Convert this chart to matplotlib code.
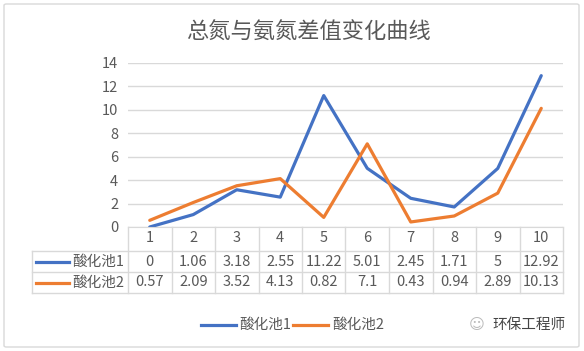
import matplotlib
matplotlib.use('Agg')
import matplotlib.pyplot as plt
from matplotlib.lines import Line2D
from matplotlib.patches import FancyBboxPatch

plt.rcParams['font.family'] = ['Noto Sans CJK SC', 'DejaVu Sans']

# data
categories = ['1', '2', '3', '4', '5', '6', '7', '8', '9', '10']
pool1 = [0, 1.06, 3.18, 2.55, 11.22, 5.01, 2.45, 1.71, 5, 12.92]
pool2 = [0.57, 2.09, 3.52, 4.13, 0.82, 7.1, 0.43, 0.94, 2.89, 10.13]
pool1_txt = ['0', '1.06', '3.18', '2.55', '11.22', '5.01', '2.45', '1.71', '5', '12.92']
pool2_txt = ['0.57', '2.09', '3.52', '4.13', '0.82', '7.1', '0.43', '0.94', '2.89', '10.13']
series_names = ['酸化池1', '酸化池2']
title = '总氮与氨氮差值变化曲线'
yticks = [0, 2, 4, 6, 8, 10, 12, 14]

W, H = 584, 351
blue = '#4472C4'
orange = '#ED7D31'
grid = '#D9D9D9'
txt = '#595959'

fig = plt.figure(figsize=(W / 100, H / 100), dpi=100)

def fx(px):
    return px / W

def fy(py):
    return 1 - py / H

# outer border
fig.add_artist(FancyBboxPatch((fx(4), fy(347)), fx(575), (343) / H,
                              boxstyle='round,pad=0,rounding_size=0.004',
                              transform=fig.transFigure, fill=False,
                              edgecolor='#D9D9D9', linewidth=1))

x0, x1 = 128, 563
ytop, ybot = 63, 227
ax = fig.add_axes([fx(x0), fy(ybot), fx(x1 - x0), (ybot - ytop) / H])
xs = list(range(1, len(categories) + 1))
ax.plot(xs, pool1, color=blue, lw=2.3, solid_capstyle='round')
ax.plot(xs, pool2, color=orange, lw=2.3, solid_capstyle='round')
ax.set_xlim(0.5, 10.5)
ax.set_ylim(0, 14)
ax.set_yticks(yticks)
ax.set_xticks([])
ax.yaxis.grid(True, color=grid, lw=1)
ax.set_axisbelow(True)
for s in ['top', 'right', 'left']:
    ax.spines[s].set_visible(False)
ax.spines['bottom'].set_color(grid)
ax.tick_params(axis='y', length=0, pad=7, labelsize=10.5, labelcolor=txt)

fig.text(fx(308), fy(32), title, ha='center', va='center', fontsize=16, color=txt)

# table
colw = (x1 - x0) / len(categories)
rows = [227, 251, 272, 293]
lc = '#D9D9D9'
for r in rows[1:]:
    fig.add_artist(Line2D([fx(32), fx(x1)], [fy(r), fy(r)], color=lc, lw=1))
fig.add_artist(Line2D([fx(32), fx(32)], [fy(251), fy(293)], color=lc, lw=1))
for k in range(len(categories) + 1):
    xx = x0 + k * colw
    fig.add_artist(Line2D([fx(xx), fx(xx)], [fy(227), fy(293)], color=lc, lw=1))

fs = 10.5
for k, c in enumerate(categories):
    cx = x0 + (k + 0.5) * colw
    fig.text(fx(cx), fy(238.5), c, ha='center', va='center', fontsize=fs, color=txt)
    fig.text(fx(cx), fy(261.5), pool1_txt[k], ha='center', va='center', fontsize=fs, color=txt)
    fig.text(fx(cx), fy(282.5), pool2_txt[k], ha='center', va='center', fontsize=fs, color=txt)

for name, col, yy in [(series_names[0], blue, 261.5), (series_names[1], orange, 282.5)]:
    fig.add_artist(Line2D([fx(36), fx(69)], [fy(yy), fy(yy)], color=col, lw=2.3))
    fig.text(fx(72), fy(yy), name, ha='left', va='center', fontsize=fs, color=txt)

# legend
ly = 325
fig.add_artist(Line2D([fx(201), fx(236)], [fy(ly), fy(ly)], color=blue, lw=2.3))
fig.text(fx(239), fy(ly), series_names[0], ha='left', va='center', fontsize=fs, color=txt)
fig.add_artist(Line2D([fx(293), fx(328)], [fy(ly), fy(ly)], color=orange, lw=2.3))
fig.text(fx(332), fy(ly), series_names[1], ha='left', va='center', fontsize=fs, color=txt)

# watermark
fig.text(fx(477), fy(ly), '☺', ha='center', va='center', fontsize=11, color='#BBBBBB')
fig.text(fx(492), fy(ly), '环保工程师', ha='left', va='center', fontsize=fs, color='#444444')

fig.savefig('out.png', dpi=100)
